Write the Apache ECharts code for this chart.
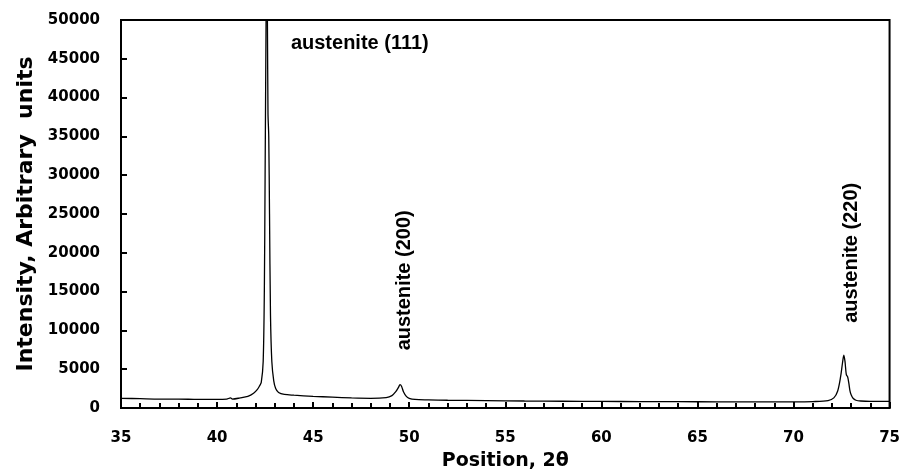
<!DOCTYPE html>
<html>
<head>
<meta charset="utf-8">
<script src="https://cdn.jsdelivr.net/npm/echarts@6/dist/echarts.min.js"></script>
<style>html,body{margin:0;padding:0;background:#fff}#c{width:903px;height:476px}</style>
</head>
<body>
<div id="c"></div>
<script>
const positions = [35, 36, 37, 38, 39, 40, 40.5, 40.7, 40.8, 41.2, 41.6, 41.9, 42.1, 42.2, 42.3, 42.4, 42.46, 42.5, 42.55, 42.58, 42.62, 42.65, 42.69, 42.73, 42.78, 42.85, 42.95, 43.05, 43.2, 43.5, 44, 45, 46, 47, 48, 48.8, 49.1, 49.3, 49.45, 49.52, 49.6, 49.7, 49.85, 50.0, 50.3, 51, 52, 54, 56, 58, 60, 62, 64, 66, 68, 70, 71, 71.8, 72.1, 72.3, 72.45, 72.55, 72.62, 72.68, 72.75, 72.82, 72.88, 72.94, 73.0, 73.1, 73.25, 73.5, 74, 75];
const intensity = [1250, 1200, 1150, 1150, 1100, 1100, 1150, 1300, 1150, 1300, 1500, 1900, 2400, 2800, 3300, 6000, 15000, 30000, 50000, 60000, 50000, 38000, 35000, 25000, 12000, 6000, 3500, 2500, 2000, 1750, 1650, 1500, 1400, 1300, 1250, 1350, 1600, 2100, 2700, 3000, 2800, 2100, 1500, 1250, 1100, 1050, 1000, 950, 900, 870, 850, 830, 820, 800, 800, 800, 830, 950, 1300, 2200, 4000, 5800, 6800, 6000, 4300, 4000, 3200, 2200, 1700, 1250, 1000, 900, 850, 850];
const xTicks = [35, 40, 45, 50, 55, 60, 65, 70, 75];
const yTicks = [0, 5000, 10000, 15000, 20000, 25000, 30000, 35000, 40000, 45000, 50000];
const peakLabels = ['austenite (111)', 'austenite (200)', 'austenite (220)'];
const xTitle = 'Position, 2θ';
const yTitle = 'Intensity, Arbitrary  units';

const chart = echarts.init(document.getElementById('c'));
const tickFont = {fontFamily: 'DejaVu Sans', fontWeight: 'bold', fontSize: 15, color: '#000'};
chart.setOption({
  animation: false,
  grid: {left: 121, top: 20, right: 10, bottom: 64, show: true, borderColor: '#000', borderWidth: 2},
  xAxis: {
    type: 'value', min: xTicks[0], max: xTicks[xTicks.length - 1], interval: 5,
    name: xTitle, nameLocation: 'middle', nameGap: 44,
    nameTextStyle: {fontFamily: 'DejaVu Sans', fontWeight: 'bold', fontSize: 19, color: '#000'},
    axisLine: {lineStyle: {color: '#000', width: 2}},
    axisTick: {inside: true, length: 6, lineStyle: {color: '#000', width: 2}},
    minorTick: {show: true, splitNumber: 5, length: 5, lineStyle: {color: '#000', width: 2}},
    splitLine: {show: false},
    axisLabel: Object.assign({margin: 23}, tickFont)
  },
  yAxis: {
    type: 'value', min: yTicks[0], max: yTicks[yTicks.length - 1], interval: 5000,
    name: yTitle, nameLocation: 'middle', nameGap: 82,
    nameTextStyle: {fontFamily: 'DejaVu Sans', fontWeight: 'bold', fontSize: 22, color: '#000'},
    axisLine: {show: true, lineStyle: {color: '#000', width: 2}},
    axisTick: {show: true, inside: true, length: 6, lineStyle: {color: '#000', width: 2}},
    splitLine: {show: false},
    axisLabel: Object.assign({margin: 21, formatter: v => String(v)}, tickFont)
  },
  series: [{
    type: 'line', clip: true, symbol: 'none', smooth: 0.3,
    lineStyle: {color: '#000', width: 1.3},
    data: positions.map((p, i) => [p, intensity[i]])
  }]
});

const annFont = 'bold 20px "Liberation Sans", Arial, sans-serif';
const p111 = chart.convertToPixel({gridIndex: 0}, [47.43, 47000]);
const p200 = chart.convertToPixel({gridIndex: 0}, [49.75, 16450]);
const p220 = chart.convertToPixel({gridIndex: 0}, [73.03, 20000]);
chart.setOption({
  graphic: [
    {type: 'text', x: p111[0], y: p111[1], style: {text: peakLabels[0], font: annFont, fill: '#000', align: 'center', verticalAlign: 'middle'}},
    {type: 'text', x: p200[0], y: p200[1], rotation: Math.PI / 2, style: {text: peakLabels[1], font: annFont, fill: '#000', align: 'center', verticalAlign: 'middle'}},
    {type: 'text', x: p220[0], y: p220[1], rotation: Math.PI / 2, style: {text: peakLabels[2], font: annFont, fill: '#000', align: 'center', verticalAlign: 'middle'}}
  ]
});
</script>
</body>
</html>
